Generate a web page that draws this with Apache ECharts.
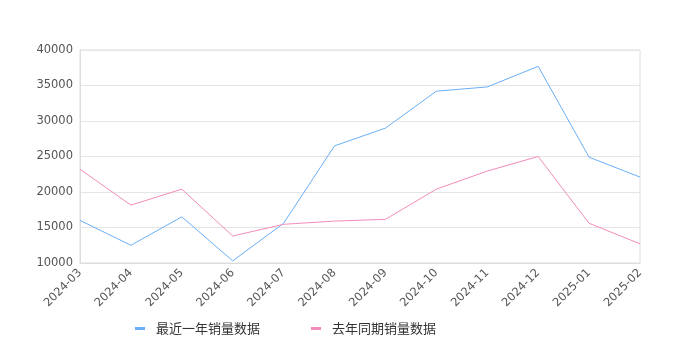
<!DOCTYPE html>
<html><head><meta charset="utf-8">
<script src="https://cdn.jsdelivr.net/npm/echarts@6/dist/echarts.min.js"></script>
<style>html,body{margin:0;padding:0;background:#fff}#c{width:680px;height:350px}</style>
</head><body><div id="c"></div>
<script>
const categories = ['2024-03','2024-04','2024-05','2024-06','2024-07','2024-08','2024-09','2024-10','2024-11','2024-12','2025-01','2025-02'];
const recentYear = [16000,12500,16500,10300,15600,26500,29000,34200,34800,37700,24900,22100];
const lastYear = [23200,18150,20400,13800,15450,15900,16150,20400,22950,25000,15600,12700];
const seriesNames = ['最近一年销量数据','去年同期销量数据'];
const chart = echarts.init(document.getElementById('c'));
chart.setOption({
  animation:false,
  color:['#6aaef5','#f28cba'],
  grid:{left:80,right:40,top:50,bottom:87,show:true,borderColor:'#ddd',borderWidth:1},
  legend:{top:317,left:130,itemGap:51,itemWidth:10,itemHeight:3,icon:'rect',
    textStyle:{fontSize:13,color:'#333',fontFamily:'Noto Sans CJK SC',padding:[0,0,0,6]},
    data:seriesNames},
  xAxis:{type:'category',data:categories,boundaryGap:false,
    axisLine:{lineStyle:{color:'#ddd'}},axisTick:{show:false},
    axisLabel:{rotate:45,color:'#555',fontSize:11.5,margin:8,interval:0,fontFamily:'DejaVu Sans'},
    splitLine:{show:false}},
  yAxis:{type:'value',min:10000,max:40000,interval:5000,
    axisLine:{show:true,lineStyle:{color:'#ddd'}},axisTick:{show:false},
    axisLabel:{color:'#555',fontSize:11.5,margin:7,fontFamily:'DejaVu Sans',formatter:function(v){return String(v);}},
    splitLine:{lineStyle:{color:'#e5e5e5'}}},
  series:[
    {name:seriesNames[0],type:'line',data:recentYear,showSymbol:false,lineStyle:{width:1}},
    {name:seriesNames[1],type:'line',data:lastYear,showSymbol:false,lineStyle:{width:1}}
  ]
});
</script></body></html>
